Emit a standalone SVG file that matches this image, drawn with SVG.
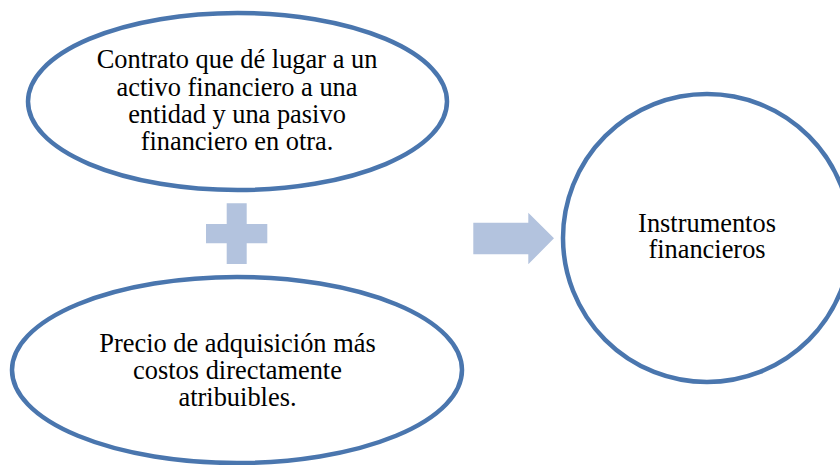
<svg xmlns="http://www.w3.org/2000/svg" width="840" height="465" viewBox="0 0 840 465">
<style>
.node{fill:#FFFFFF;stroke:#4A76AE;stroke-width:4.5}
.sym{fill:#B3C3DE}
.t{font-family:"Liberation Serif","Times New Roman",serif;font-size:26.4px;fill:#000000;text-anchor:middle}
</style>
<rect width="840" height="465" fill="#FFFFFF"/>
<g id="node-contrato">
<ellipse class="node" cx="237.5" cy="101.5" rx="209.5" ry="88.5"/>
<text class="t" x="237" y="68.3">Contrato que dé lugar a un</text>
<text class="t" x="237" y="95.7">activo financiero a una</text>
<text class="t" x="237" y="122.8">entidad y una pasivo</text>
<text class="t" x="237" y="150">financiero en otra.</text>
</g>
<g id="node-precio">
<ellipse class="node" cx="237" cy="370" rx="225" ry="93"/>
<text class="t" x="237.5" y="352.3">Precio de adquisición más</text>
<text class="t" x="237.5" y="379.3">costos directamente</text>
<text class="t" x="237.5" y="406.3">atribuibles.</text>
</g>
<g id="node-instrumentos">
<circle class="node" cx="707" cy="238" r="144"/>
<text class="t" x="707" y="231.7">Instrumentos</text>
<text class="t" x="707" y="258.3">financieros</text>
</g>
<g id="connectors">
<path class="sym" d="M226.7,203.3 H246.7 V224 H267.3 V243.3 H246.7 V264 H226.7 V243.3 H206 V224 H226.7 Z"/>
<path class="sym" d="M473.3,222.7 H528.3 V212.7 L554,238.3 L528.3,264.3 V254.3 H473.3 Z"/>
</g>
</svg>
